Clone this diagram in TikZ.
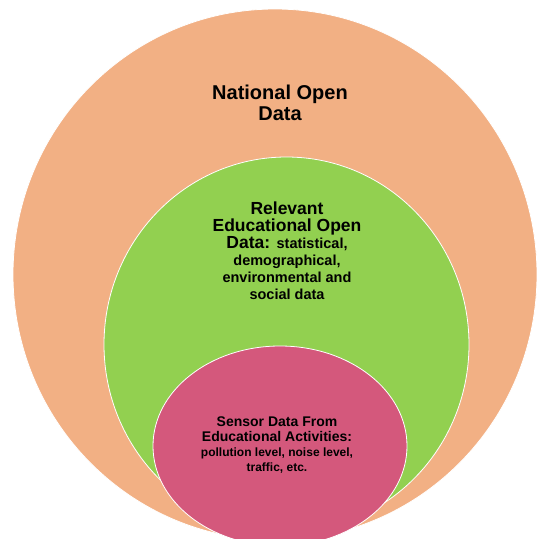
\documentclass[tikz,border=0pt]{standalone}
\usepackage{fontspec}
\setmainfont{Liberation Sans}
\usetikzlibrary{shapes.geometric}
\definecolor{OpenOrange}{HTML}{F2B084}
\definecolor{EduGreen}{HTML}{92D050}
\definecolor{SensorPink}{HTML}{D4587C}

\begin{document}
\begin{tikzpicture}[x=1pt, y=-1pt,
  Ring/.style    = {ellipse, draw=white, line width=0.8pt, inner sep=0pt},
  Caption/.style = {align=center, text=black, inner sep=0pt}]
  \useasboundingbox (0,0) rectangle (537,539);
  \clip (0,0) rectangle (537,539);

% level 0
\node[Ring, fill=OpenOrange, minimum width=524pt, minimum height=531pt] (national) at (275,274.5) {};

% level 1
\node[Ring, fill=EduGreen, minimum width=365pt, minimum height=375pt] (relevant) at (286.5,344.5) {};

% level 2
\node[Ring, fill=SensorPink, minimum width=254pt, minimum height=200pt] (sensor) at (280,446) {};

% texts
\node[Caption, font=\fontsize{20}{20.5}\selectfont\bfseries] (nationaltext) at (280,103)
  {National Open\\Data};
\node[Caption, font=\fontsize{17.5}{17}\selectfont\bfseries] (relevanttext) at (287,251)
  {Relevant\\Educational Open\\Data: {\fontsize{14.5}{17}\selectfont statistical,}\\
   {\fontsize{14.5}{17}\selectfont demographical,}\\
   {\fontsize{14.5}{17}\selectfont environmental and}\\
   {\fontsize{14.5}{17}\selectfont social data}};
\node[Caption, font=\fontsize{14}{15}\selectfont\bfseries] (sensortext) at (277,445)
  {Sensor Data From\\Educational Activities:\\
   {\fontsize{12}{15}\selectfont pollution level, noise level,}\\
   {\fontsize{12}{15}\selectfont traffic, etc.}};

\end{tikzpicture}
\end{document}
